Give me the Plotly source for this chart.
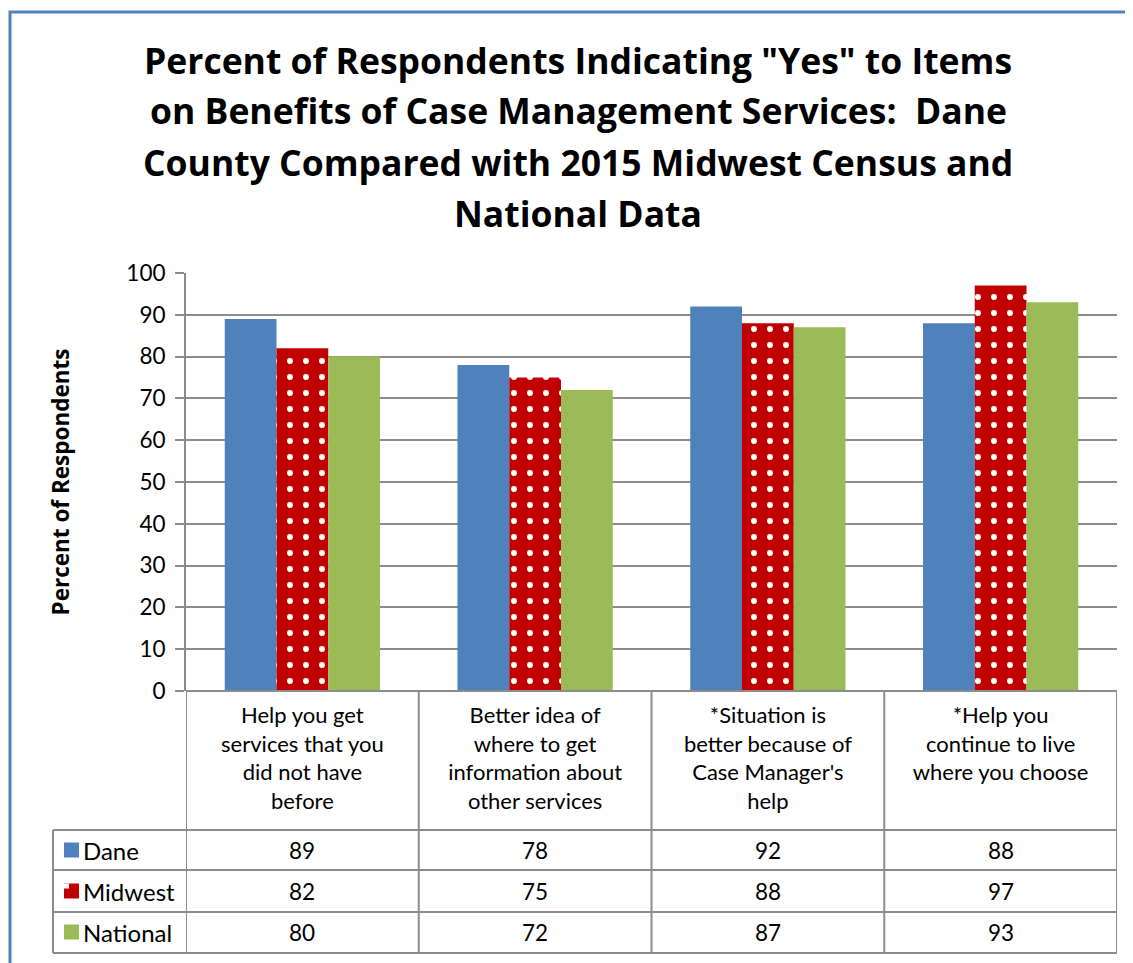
import plotly.graph_objects as go

categories = ["Help you get<br>services that you<br>did not have<br>before",
              "Better idea of<br>where to get<br>information about<br>other services",
              "*Situation is<br>better because of<br>Case Manager's<br>help",
              "*Help you<br>continue to live<br>where you choose"]
series_names = ["Dane", "Midwest", "National"]
dane = [89, 78, 92, 88]
midwest = [82, 75, 88, 97]
national = [80, 72, 87, 93]
title_lines = ['Percent of Respondents Indicating "Yes" to Items',
               'on Benefits of Case Management Services:  Dane',
               'County Compared with 2015 Midwest Census and',
               'National Data']
y_ticks = [0, 10, 20, 30, 40, 50, 60, 70, 80, 90, 100]

W, H = 1133, 963
OFF = 8  # page body margin
FONT = "Lato, 'Open Sans', sans-serif"
BOLD_FONT = "'Open Sans', Lato, sans-serif"
GRID = "#8c8c8c"
colors = ["#4F81BD", "#C00000", "#9BBB59"]
values = [dane, midwest, national]


def px(x):
    return (x - OFF) / W


def py(y):
    return 1 - (y - OFF) / H


x_idx = list(range(len(categories)))

fig = go.Figure()
fig.add_trace(go.Bar(x=x_idx, y=dane, name="Dane", marker=dict(color=colors[0], line=dict(width=0))))
fig.add_trace(go.Bar(x=x_idx, y=midwest, name="Midwest",
                     marker=dict(color=colors[1], line=dict(width=0),
                                 pattern=dict(shape=".", fgcolor="white", bgcolor=colors[1],
                                              size=16, solidity=0.11, fillmode="replace"))))
fig.add_trace(go.Bar(x=x_idx, y=national, name="National", marker=dict(color=colors[2], line=dict(width=0))))

y0_px, y100_px = 691, 273
x_left, x_right = 186, 1117

fig.update_layout(
    width=W, height=H, autosize=False,
    margin=dict(l=0, r=0, t=0, b=0, pad=0),
    paper_bgcolor="white", plot_bgcolor="white",
    barmode="group", bargap=0.333, bargroupgap=0,
    showlegend=False,
    font=dict(family=FONT, color="black"),
    xaxis=dict(domain=[px(x_left), px(x_right)], range=[-0.5, 3.5],
               tickmode="array", tickvals=x_idx, ticktext=categories,
               ticks="", showgrid=False, zeroline=False, showline=False,
               tickfont=dict(size=22, family=FONT, color="black"),
               ticklabelstandoff=9, automargin=False, fixedrange=True),
    yaxis=dict(domain=[py(y0_px), py(y100_px)], range=[0, 100],
               tickmode="array", tickvals=y_ticks,
               ticks="outside", ticklen=9, tickcolor=GRID, tickwidth=2,
               showgrid=True, gridcolor=GRID, gridwidth=2,
               showline=True, linecolor=GRID, linewidth=2,
               zeroline=False, ticklabelstandoff=5,
               tickfont=dict(size=22.5, family=FONT, color="black"),
               title=dict(text="<b>Percent of Respondents</b>", standoff=50,
                          font=dict(size=22.5, family=BOLD_FONT, color="black")),
               automargin=False, fixedrange=True),
)

shapes = []
line_style = dict(color=GRID, width=2)
# outer chart border
shapes.append(dict(type="rect", xref="paper", yref="paper", x0=px(10), x1=1.05, y0=-0.05, y1=py(12),
                   line=dict(color="#4F81BD", width=3), fillcolor="rgba(0,0,0,0)", layer="below"))
# table verticals at category boundaries
for b in [-0.5, 0.5, 1.5, 2.5, 3.5]:
    shapes.append(dict(type="line", xref="x", yref="paper", x0=b, x1=b,
                       y0=py(953), y1=py(y0_px), line=line_style))
# bottom axis line
shapes.append(dict(type="line", xref="paper", yref="paper", x0=px(x_left), x1=px(x_right),
                   y0=py(y0_px), y1=py(y0_px), line=line_style))
# row lines
row_edges = [830, 870, 912, 953]
for r in row_edges:
    shapes.append(dict(type="line", xref="paper", yref="paper", x0=px(53), x1=px(x_right),
                       y0=py(r), y1=py(r), line=line_style))
shapes.append(dict(type="line", xref="paper", yref="paper", x0=px(53), x1=px(53),
                   y0=py(953), y1=py(830), line=line_style))

annotations = []
row_centers = [850, 891, 932]
for i, (name, vals) in enumerate(zip(series_names, values)):
    yc = row_centers[i]
    # legend key
    shapes.append(dict(type="rect", xref="paper", yref="paper", x0=px(64), x1=px(79),
                       y0=py(yc + 7.5), y1=py(yc - 7.5), fillcolor=colors[i], line=dict(width=0)))
    if name == "Midwest":
        shapes.append(dict(type="rect", xref="paper", yref="paper", x0=px(64), x1=px(69),
                           y0=py(yc - 2.5), y1=py(yc - 7.5), fillcolor="white", line=dict(width=0)))
    annotations.append(dict(xref="paper", yref="paper", x=px(81), y=py(yc), text=name,
                            showarrow=False, xanchor="left", yanchor="middle",
                            font=dict(size=24, family=FONT, color="black")))
    for j, v in enumerate(vals):
        annotations.append(dict(xref="x", yref="paper", x=x_idx[j], y=py(yc), text=str(v),
                                showarrow=False, xanchor="center", yanchor="middle",
                                font=dict(size=22.5, family=FONT, color="black")))

title_y = [60, 110, 162, 213]
for t, yy in zip(title_lines, title_y):
    annotations.append(dict(xref="paper", yref="paper", x=px(578), y=py(yy), text="<b>" + t + "</b>",
                            showarrow=False, xanchor="center", yanchor="middle",
                            font=dict(size=35.5, family=BOLD_FONT, color="black")))

fig.update_layout(shapes=shapes, annotations=annotations)
fig.write_html("out.html")
